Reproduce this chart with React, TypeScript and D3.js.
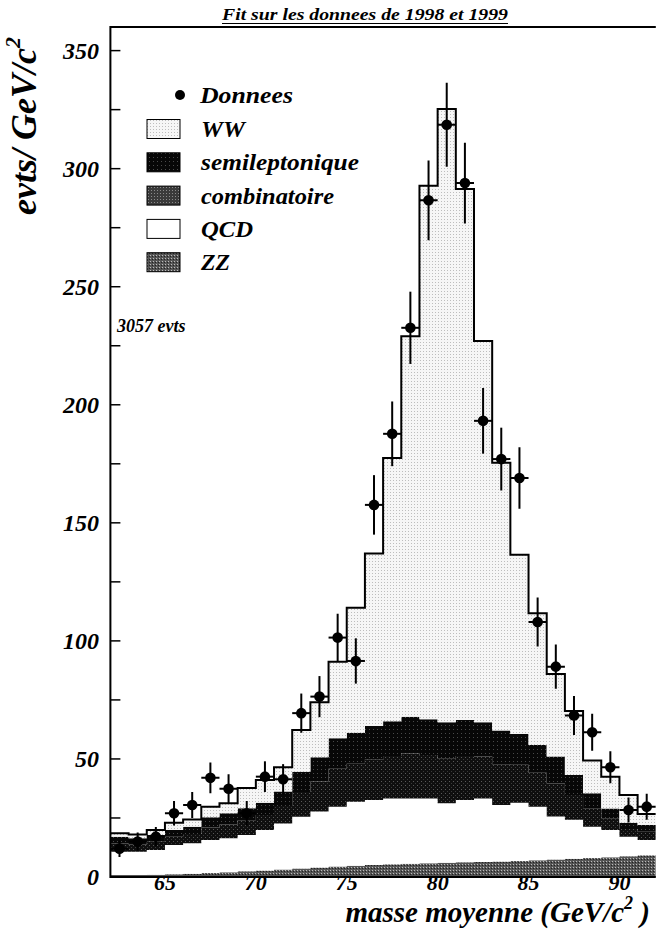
import React from "react";
import * as d3 from "d3";

// ---- data (bins of 1 GeV/c^2, lower edges) ----
const binLow = [62, 63, 64, 65, 66, 67, 68, 69, 70, 71, 72, 73, 74, 75, 76, 77, 78, 79, 80, 81, 82, 83, 84, 85, 86, 87, 88, 89, 90, 91];
const zz = [0.8, 0.9, 1.0, 1.2, 1.4, 1.7, 2.0, 2.4, 2.8, 3.2, 3.6, 4.0, 4.4, 4.8, 5.1, 5.4, 5.6, 5.8, 6.0, 6.2, 6.4, 6.6, 6.8, 7.1, 7.4, 7.7, 8.0, 8.4, 8.8, 9.2];
const qcd = [9.9, 9.8, 10.4, 12.4, 12.9, 14.0, 14.4, 15.4, 17.1, 19.5, 21.9, 23.7, 25.4, 27.1, 27.5, 27.9, 27.7, 27.5, 25.2, 26.4, 26.9, 23.9, 24.7, 22.7, 18.2, 16.5, 13.3, 11.5, 8.3, 6.5];
const combinatoire = [3.5, 3.1, 3.5, 3.5, 3.9, 5.3, 5.8, 6.2, 6.4, 7.4, 10.5, 12.7, 16.0, 16.1, 17.3, 18.0, 19.0, 18.4, 18.9, 18.6, 17.7, 17.3, 16.0, 14.4, 14.0, 10.5, 7.8, 5.0, 3.2, 3.5];
const semileptonique = [2.9, 2.6, 2.9, 2.8, 3.1, 4.3, 4.8, 5.1, 5.2, 6.1, 8.6, 10.3, 13.0, 13.1, 14.1, 14.7, 15.6, 15.1, 15.4, 15.3, 14.5, 14.2, 13.1, 11.7, 11.4, 8.5, 6.4, 4.1, 2.7, 2.8];
const ww = [1.4, 1.6, 2.1, 3.1, 3.1, 4.5, 4.2, 8.6, 9.6, 10.3, 17.7, 23.3, 32.4, 52.9, 73.0, 111.5, 161.1, 226.0, 259.8, 224.9, 161.5, 113.5, 75.9, 55.8, 35.0, 27.1, 13.8, 13.5, 11.7, 4.7];
const dataCounts = [12, 15, 17.1, 27, 30.5, 42, 37.4, 27, 42.5, 41.4, 69.4, 76.4, 101.4, 91.5, 157.6, 187.7, 232.6, 286.6, 318.6, 293.9, 193.2, 177, 169, 108, 89.1, 68.4, 61.3, 46.5, 28.4, 29.8];
const dataErrors = [3.5, 3.9, 4.1, 5.2, 5.5, 6.5, 6.1, 5.2, 6.5, 6.4, 8.3, 8.7, 10.1, 9.6, 12.6, 13.7, 15.3, 16.9, 17.8, 17.1, 13.9, 13.3, 13.0, 10.4, 9.4, 8.3, 7.8, 6.8, 5.3, 5.5];

const yTickLabels = [0, 50, 100, 150, 200, 250, 300, 350];
const yMinorTicks = [25, 75, 125, 175, 225, 275, 325];
const xTickLabels = [65, 70, 75, 80, 85, 90];

const legendItems = [
  { key: "ww", label: "WW", pat: "url(#patWW)" },
  { key: "semileptonique", label: "semileptonique", pat: "url(#patSemi)" },
  { key: "combinatoire", label: "combinatoire", pat: "url(#patCombLeg)" },
  { key: "qcd", label: "QCD", pat: "#ffffff" },
  { key: "zz", label: "ZZ", pat: "url(#patZZ)" },
];
const legendWidths: Record<string, number> = { ww: 44, semileptonique: 158, combinatoire: 133, qcd: 52, zz: 29 };

const FONT = "'Liberation Serif', 'Times New Roman', Times, serif";

export default function App() {
  const W = 656, H = 931;
  const left = 110.4, right = 655.8, top = 27, bottom = 877;
  const x = d3.scaleLinear().domain([62, 92]).range([left, right]);
  const y = d3.scaleLinear().domain([0, 360]).range([bottom, top]);

  const rows = binLow.map((b, i) => ({
    b,
    zz: zz[i],
    qcd: qcd[i],
    combinatoire: combinatoire[i],
    semileptonique: semileptonique[i],
    ww: ww[i],
  }));
  const keys = ["zz", "qcd", "combinatoire", "semileptonique", "ww"];
  const stacked = d3.stack<any>().keys(keys)(rows);
  const fills: Record<string, string> = {
    zz: "url(#patZZ)",
    qcd: "#ffffff",
    combinatoire: "url(#patComb)",
    semileptonique: "url(#patSemi)",
    ww: "url(#patWW)",
  };

  const edges = [...binLow, binLow[binLow.length - 1] + 1];
  const area = d3
    .area<[number, number]>()
    .x((_, i) => x(edges[i]))
    .y0((d) => y(d[0]))
    .y1((d) => y(d[1]))
    .curve(d3.curveStepAfter);

  const totals = rows.map((r) => r.zz + r.qcd + r.combinatoire + r.semileptonique + r.ww);
  const totalExt = [...totals, totals[totals.length - 1]];
  const line = d3
    .line<number>()
    .x((_, i) => x(edges[i]))
    .y((d) => y(d))
    .curve(d3.curveStepAfter);

  const textStyle = { fontFamily: FONT, fontWeight: "bold" as const, fontStyle: "italic" as const };

  return (
    <div style={{ position: "absolute", left: 0, top: 0 }}>
      <svg width={W} height={H} style={{ display: "block", background: "#fff" }}>
        <defs>
          <pattern id="patWW" width="3" height="3" patternUnits="userSpaceOnUse">
            <rect width="3" height="3" fill="#f6f6f6" />
            <rect x="0" y="0" width="1" height="1" fill="#bdbdbd" />
          </pattern>
          <pattern id="patSemi" width="4" height="4" patternUnits="userSpaceOnUse">
            <rect width="4" height="4" fill="#070707" />
            <rect x="1" y="1" width="1" height="1" fill="#4a4a4a" />
          </pattern>
          <pattern id="patComb" width="4" height="4" patternUnits="userSpaceOnUse">
            <rect width="4" height="4" fill="#0f0f0f" />
            <rect x="1" y="1" width="1" height="1" fill="#5a5a5a" />
            <rect x="3" y="3" width="1" height="1" fill="#3a3a3a" />
          </pattern>
          <pattern id="patCombLeg" width="3" height="3" patternUnits="userSpaceOnUse">
            <rect width="3" height="3" fill="#3a3a3a" />
            <rect x="1" y="1" width="1" height="1" fill="#8a8a8a" />
          </pattern>
          <pattern id="patZZ" width="3" height="3" patternUnits="userSpaceOnUse">
            <rect width="3" height="3" fill="#555" />
            <rect x="0" y="0" width="1" height="1" fill="#bbb" />
            <rect x="2" y="1" width="1" height="1" fill="#222" />
          </pattern>
          <clipPath id="plotClip">
            <rect x={left} y={top} width={right - left} height={bottom - top} />
          </clipPath>
        </defs>

        {/* title */}
        <text x={222} y={20} fontSize={17} textLength={286} lengthAdjust="spacingAndGlyphs" {...textStyle}>
          Fit sur les donnees de 1998 et 1999
        </text>
        <line x1={222} x2={508} y1={23.5} y2={23.5} stroke="#000" strokeWidth={1} />

        <g clipPath="url(#plotClip)">
          {stacked.map((s) => {
            const pts: [number, number][] = s.map((d: any) => [d[0], d[1]]);
            pts.push(pts[pts.length - 1]);
            return <path key={s.key} d={area(pts) || ""} fill={fills[s.key]} stroke="none" />;
          })}
          <path d={line(totalExt) || ""} fill="none" stroke="#000" strokeWidth={2} />

          {/* data points */}
          {dataCounts.map((v, i) => {
            const cx = x(binLow[i] + 0.5);
            const cy = y(v);
            return (
              <g key={i}>
                <line x1={cx} x2={cx} y1={y(v - dataErrors[i])} y2={y(v + dataErrors[i])} stroke="#000" strokeWidth={2} />
                <line x1={x(binLow[i])} x2={x(binLow[i] + 1)} y1={cy} y2={cy} stroke="#000" strokeWidth={2} />
                <circle cx={cx} cy={cy} r={5.3} fill="#000" />
              </g>
            );
          })}
        </g>

        {/* frame */}
        <path d={`M${right},${top} L${left},${top} L${left},${bottom} L${right},${bottom}`} fill="none" stroke="#000" strokeWidth={2} />

        {/* y ticks */}
        {[...yTickLabels, ...yMinorTicks].map((t) => (
          <line key={"yt" + t} x1={left} x2={left + 10} y1={y(t)} y2={y(t)} stroke="#000" strokeWidth={1.5} />
        ))}
        {yTickLabels.map((t) => (
          <text key={"yl" + t} x={99} y={y(t)} dy="0.35em" textAnchor="end" fontSize={24} {...textStyle}>
            {t}
          </text>
        ))}
        {xTickLabels.map((t) => (
          <text key={"xl" + t} x={x(t)} y={890} textAnchor="middle" fontSize={22} {...textStyle}>
            {t}
          </text>
        ))}

        {/* axis titles */}
        <text x={650} y={922} fontSize={29} textAnchor="end" {...textStyle}>
          masse moyenne (GeV/c<tspan dy={-13} fontSize={18}>2</tspan><tspan dy={13}> )</tspan>
        </text>
        <text transform="translate(36,215) rotate(-90)" fontSize={36} {...textStyle}>
          evts/ GeV/c<tspan dy={-16} fontSize={22}>2</tspan>
        </text>

        {/* legend */}
        <circle cx={180} cy={95} r={5} fill="#000" />
        <text x={200} y={103} fontSize={23} textLength={93} lengthAdjust="spacingAndGlyphs" {...textStyle}>
          Donnees
        </text>
        {legendItems.map((it, i) => {
          const cy = 129 + i * 33.3;
          return (
            <g key={it.key}>
              <rect x={147} y={cy - 9.5} width={33} height={19} fill={it.pat} stroke="#000" strokeWidth={1} />
              <text x={201} y={cy + 8} fontSize={23} textLength={legendWidths[it.key]} lengthAdjust="spacingAndGlyphs" {...textStyle}>
                {it.label}
              </text>
            </g>
          );
        })}

        <text x={117} y={332} fontSize={18} {...textStyle}>
          3057 evts
        </text>
      </svg>
    </div>
  );
}
